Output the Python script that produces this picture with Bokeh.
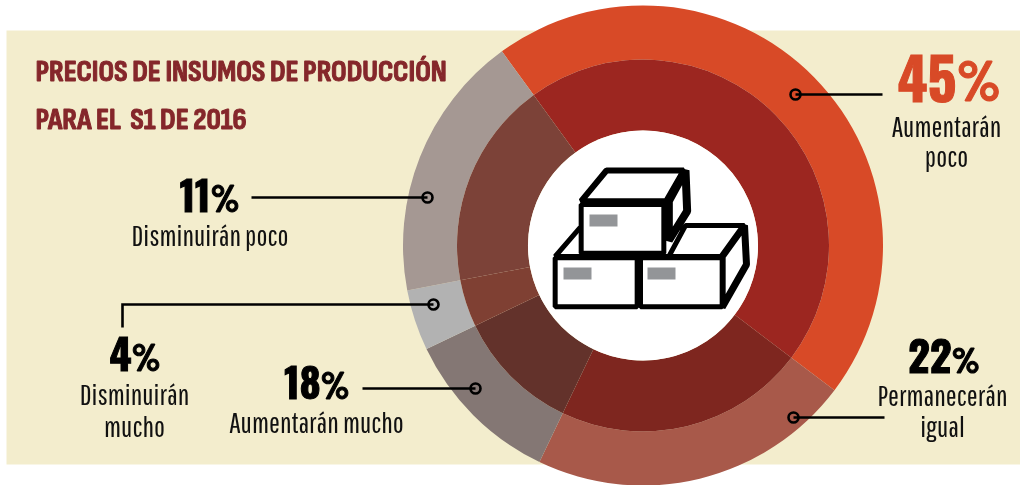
from math import radians
from bokeh.plotting import figure
from bokeh.models import Range1d
from bokeh.core.properties import value
from bokeh.embed import file_html
from bokeh.resources import INLINE

# ---- data ----
title_lines = ["PRECIOS DE INSUMOS DE PRODUCCIÓN", "PARA EL \u00a0S1 DE 2016"]
slice_shares = [45.3, 21.8, 10.8, 4.1, 18.0]   # drawn slice sizes, clockwise
outer_colors = ["#d84a27", "#a8594a", "#847774", "#b2b2b2", "#a59893"]
inner_colors = ["#9c2620", "#7e261f", "#63322b", "#7f4033", "#7c4238"]
pct_numbers = ["45", "22", "18", "4", "11"]
pct_captions = [["Aumentarán", "poco"], ["Permanecerán", "igual"], ["Aumentarán mucho"],
                ["Disminuirán", "mucho"], ["Disminuirán poco"]]

# ---- layout ----
W, H = 1020, 485
CX, CY = 642.5, 245
R_OUT, R_MID, R_IN = 240, 186, 115
START = -36
BG = "#f3edcd"
CAPTION = value("Pathway Gothic One")
TITLE = value("Sofia Sans Condensed")
DIGIT = value("Oswald")
PCT = value("Barlow Condensed")
K_TITLE, K_CAP, K_DIGIT, K_PCT = 0.28, 0.34, 0.42, 0.42

def Y(py):
    return H - py

p = figure(width=W, height=H, x_range=Range1d(0, W), y_range=Range1d(0, H),
           output_backend="svg", toolbar_location=None, min_border=0,
           background_fill_color="white", border_fill_color="white", outline_line_color=None)
p.axis.visible = False
p.grid.visible = False
p.styles = {"position": "fixed", "left": "0px", "top": "0px"}

p.quad(left=[6], right=[W], bottom=[Y(464)], top=[Y(30)], fill_color=BG, line_color=None)

# ---- rings ----
a = START
starts, ends = [], []
for s in slice_shares:
    starts.append(radians(90 - a))
    a += s * 3.6
    ends.append(radians(90 - a))
n = len(slice_shares)
p.annular_wedge(x=[CX] * n, y=[Y(CY)] * n, inner_radius=R_MID, outer_radius=R_OUT,
                start_angle=starts, end_angle=ends, direction="clock",
                fill_color=outer_colors, line_color=None)
p.annular_wedge(x=[CX] * n, y=[Y(CY)] * n, inner_radius=R_IN, outer_radius=R_MID,
                start_angle=starts, end_angle=ends, direction="clock",
                fill_color=inner_colors, line_color=None)
p.circle(x=[CX], y=[Y(CY)], radius=R_IN, fill_color="white", line_color=None)

# ---- box icon ----
def ZX(v): return 520 + v / 3
def ZY(v): return Y(150 + v / 3)
def poly(pts, fill="white", lw=5):
    xs = [ZX(q[0]) for q in pts]; ys = [ZY(q[1]) for q in pts]
    p.patch(xs, ys, fill_color=fill, line_color="black", line_width=lw, line_join="bevel")
poly([(104, 318), (178, 232), (500, 232), (500, 318)], lw=5)
poly([(445, 318), (495, 225), (672, 225), (605, 318)], lw=5)
poly([(672, 225), (678, 342), (605, 470), (605, 318)], lw=7)
poly([(104, 322), (350, 322), (350, 469), (104, 469)])
poly([(360, 322), (605, 322), (605, 469), (360, 469)])
poly([(182, 152), (258, 60), (490, 60), (437, 152)], lw=6)
poly([(495, 60), (500, 182), (445, 270), (445, 152)], lw=8)
poly([(182, 162), (430, 162), (430, 308), (182, 308)])
for x0, y0 in [(207, 192), (129, 351), (381, 351)]:
    p.quad(left=[ZX(x0)], right=[ZX(x0 + 84)], top=[ZY(y0)], bottom=[ZY(y0 + 36)],
           fill_color="#939598", line_color=None)

# ---- connectors ----
conns = [([795, 882], [94, 94]), ([793, 884], [417, 417]), ([475, 362], [388, 388]),
         ([433, 122, 122], [304, 304, 327]), ([427, 251], [197, 197])]
for xs, ys in conns:
    p.line(xs, [Y(v) for v in ys], line_color="black", line_width=2.6, line_join="miter")
    p.scatter([xs[0]], [Y(ys[0])], size=10, marker="circle", fill_color=None,
              line_color="black", line_width=2.6)

# ---- texts ----
TS = 30
for line, by in zip(title_lines, [80, 128]):
    p.text([35], [Y(by - K_TITLE * TS)], text=[line], text_font=TITLE, text_font_style="bold",
           text_font_size=f"{TS}px", text_color="#85272b", text_outline_color="#85272b",
           text_baseline="alphabetic")

# split x between digits and percent sign, baseline, digit px, percent px, colour
num_pos = [(956, 102, 57, 58, "#d84a27"), (951, 373, 42, 37, "black"), (320, 399, 40, 38, "black"),
           (131, 371, 42, 38, "black"), (210, 212, 40, 38, "black")]
cap_pos = [(946, [135, 165]), (942, [404, 435]), (316, [431]), (134, [403, 435]), (209.5, [244])]
CS = 29
for num, (sx, by, fs, fp, col), caps, (ccx, bys) in zip(pct_numbers, num_pos, pct_captions, cap_pos):
    p.text([sx], [Y(by - K_DIGIT * fs)], text=[num], text_font=DIGIT, text_font_style="bold",
           text_font_size=f"{fs}px", text_color=col, text_outline_color=col,
           text_align="right", text_baseline="alphabetic")
    p.text([sx], [Y(by - K_PCT * fp)], text=["%"], text_font=PCT, text_font_style="bold",
           text_font_size=f"{fp}px", text_color=col, text_outline_color=col,
           text_align="left", text_baseline="alphabetic")
    for c, b in zip(caps, bys):
        p.text([ccx], [Y(b - K_CAP * CS)], text=[c], text_font=CAPTION, text_font_size=f"{CS}px",
               text_color="#111111", text_align="center", text_baseline="alphabetic")

open("out.html", "w").write(file_html(p, INLINE))
